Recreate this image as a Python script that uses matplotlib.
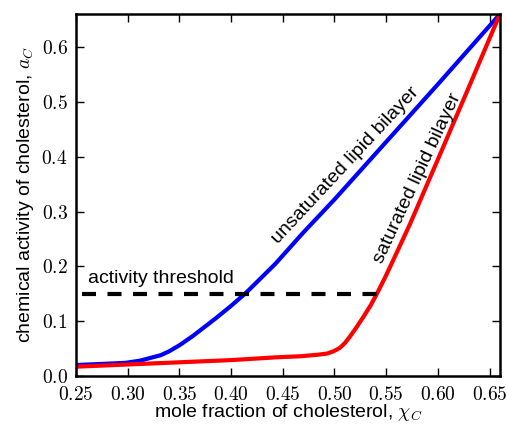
import matplotlib
matplotlib.use("Agg")
import matplotlib.pyplot as plt
from matplotlib.ticker import FuncFormatter, MultipleLocator

plt.rcParams['font.family'] = ['Liberation Sans', 'DejaVu Sans']
plt.rcParams['mathtext.fontset'] = 'cm'

# unsaturated lipid bilayer (blue)
x_unsat = [0.25, 0.275, 0.298, 0.312, 0.324, 0.332, 0.340, 0.350, 0.363, 0.374, 0.385, 0.400, 0.414, 0.428, 0.443, 0.47, 0.50, 0.55, 0.60, 0.66]
y_unsat = [0.020, 0.022, 0.024, 0.028, 0.034, 0.038, 0.045, 0.056, 0.073, 0.089, 0.105, 0.128, 0.151, 0.177, 0.205, 0.262, 0.322, 0.427, 0.532, 0.660]

# saturated lipid bilayer (red)
x_sat = [0.25, 0.30, 0.35, 0.40, 0.443, 0.467, 0.485, 0.493, 0.499, 0.505, 0.510, 0.515, 0.521, 0.528, 0.535, 0.541, 0.549, 0.557, 0.573, 0.60, 0.63, 0.66]
y_sat = [0.017, 0.021, 0.025, 0.029, 0.034, 0.036, 0.039, 0.041, 0.045, 0.051, 0.060, 0.072, 0.088, 0.108, 0.129, 0.150, 0.180, 0.212, 0.277, 0.395, 0.527, 0.660]

thr_x = [0.2558, 0.541]
thr_y = [0.15, 0.15]

fig = plt.figure(figsize=(5.07, 4.28), dpi=100)
ax = fig.add_axes([0.150, 0.1215, 0.836, 0.8455])

ax.plot(x_unsat, y_unsat, color='#0000ff', lw=3, solid_capstyle='butt')
ax.plot(x_sat, y_sat, color='#ff0000', lw=3, solid_capstyle='butt')
ax.plot(thr_x, thr_y, color='black', lw=3, linestyle=(0, (3.36, 2.76)))

ax.text(0.262, 0.162, 'activity threshold', fontsize=14, ha='left', va='bottom')
ax.text(0.511, 0.385, 'unsaturated lipid bilayer', fontsize=14, rotation=47,
        ha='center', va='center', rotation_mode='anchor')
ax.text(0.580, 0.36, 'saturated lipid bilayer', fontsize=14, rotation=65,
        ha='center', va='center', rotation_mode='anchor')

ax.set_xlim(0.25, 0.66)
ax.set_ylim(0.0, 0.66)
ax.xaxis.set_major_locator(MultipleLocator(0.05))
ax.yaxis.set_major_locator(MultipleLocator(0.1))
ax.xaxis.set_major_formatter(FuncFormatter(lambda v, p: r'$%.2f$' % v))
ax.yaxis.set_major_formatter(FuncFormatter(lambda v, p: r'$%.1f$' % v))
ax.tick_params(direction='in', length=6, width=1, top=True, right=True, labelsize=14)
ax.tick_params(axis='x', pad=7)
ax.tick_params(axis='y', pad=6)
for s in ax.spines.values():
    s.set_linewidth(1.8)

ax.set_xlabel(r'mole fraction of cholesterol, $\chi_C$', fontsize=14, labelpad=-1)
ax.set_ylabel(r'chemical activity of cholesterol, $a_C$', fontsize=14, labelpad=4)

fig.savefig('out.png', dpi=100)
